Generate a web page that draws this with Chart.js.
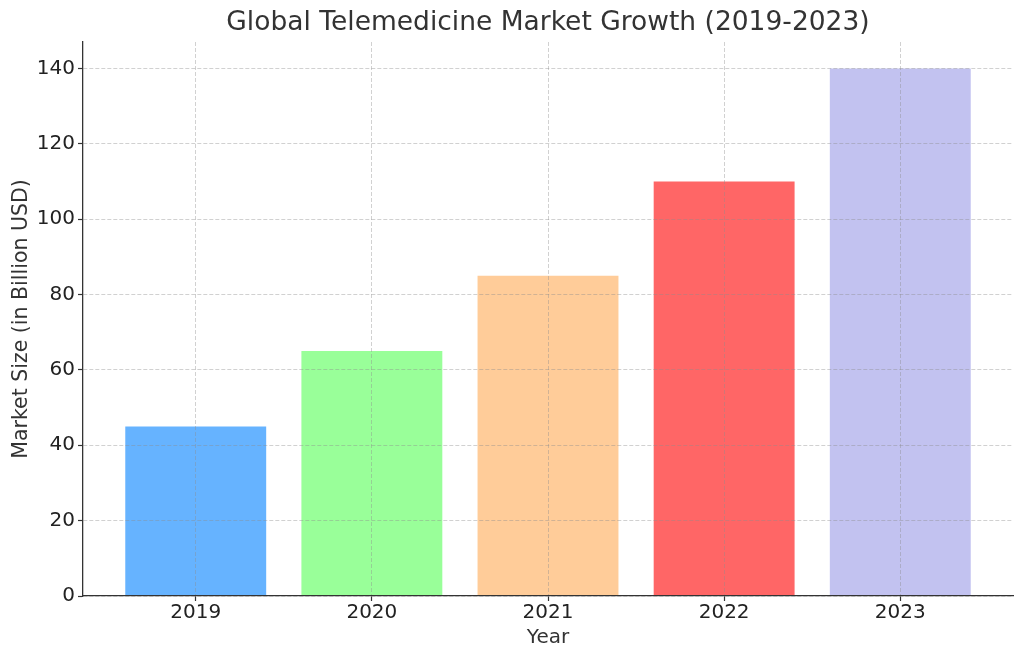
<!DOCTYPE html>
<html>
<head>
<meta charset="utf-8">
<title>Global Telemedicine Market Growth</title>
<script src="https://cdn.jsdelivr.net/npm/chart.js@4.4.1/dist/chart.umd.min.js"></script>
<style>
    html, body { margin: 0; padding: 0; background: #fff; }
    #wrap { width: 1024px; height: 660px; }
</style>
</head>
<body>
<div id="wrap"><canvas id="marketChart"></canvas></div>
<script>
// Chart data
const years = ['2019', '2020', '2021', '2022', '2023'];
const marketSize = [45, 65, 85, 110, 140];
const barColors = ['#66b3ff', '#99ff99', '#ffcc99', '#ff6666', '#c2c2f0'];
const yTicks = [0, 20, 40, 60, 80, 100, 120, 140];

const chartTitle = 'Global Telemedicine Market Growth (2019-2023)';
const FONT = '"DejaVu Sans", sans-serif';

// Title centred over the plot area, like matplotlib does
const plotTitle = {
    id: 'plotTitle',
    afterDraw(chart) {
        const { ctx, chartArea } = chart;
        ctx.save();
        ctx.font = '26.5px ' + FONT;
        ctx.fillStyle = '#333';
        ctx.textAlign = 'center';
        ctx.textBaseline = 'middle';
        ctx.fillText(chartTitle, (chartArea.left + chartArea.right) / 2, 23);
        ctx.restore();
    }
};

// grid on top of the bars (z: 1), border in the same layer so it draws after the grid
const gridStyle = {
    color: 'rgba(140, 140, 140, 0.4)',
    lineWidth: 1,
    z: 1,
    offset: false,
    tickColor: '#333',
    tickLength: 5,
    tickWidth: 1.2
};
const borderStyle = { display: true, color: '#333', width: 1.3, dash: [4, 2], z: 1 };

const ctx = document.getElementById('marketChart').getContext('2d');
new Chart(ctx, {
    type: 'bar',
    data: {
        datasets: [{
            label: 'Market Size',
            data: marketSize.map((v, i) => ({ x: i, y: v })),
            backgroundColor: barColors,
            borderWidth: 0,
            barPercentage: 0.8,
            categoryPercentage: 1
        }]
    },
    options: {
        responsive: true,
        maintainAspectRatio: false,
        animation: false,
        layout: { padding: { top: 42, right: 11, left: 0, bottom: 0 } },
        plugins: {
            legend: { display: false },
            tooltip: { enabled: false }
        },
        scales: {
            x: {
                type: 'linear',
                offset: false,
                min: -0.64,
                max: 4.64,
                afterBuildTicks: scale => {
                    scale.ticks = years.map((_, i) => ({ value: i }));
                },
                afterFit: scale => { scale.height = 64; },
                ticks: {
                    callback: value => years[value],
                    font: { family: FONT, size: 20 },
                    color: '#222',
                    padding: 0,
                    maxRotation: 0
                },
                grid: gridStyle,
                border: borderStyle,
                title: {
                    display: true,
                    text: 'Year',
                    font: { family: FONT, size: 20 },
                    color: '#333',
                    padding: { top: 0, bottom: 10 }
                }
            },
            y: {
                min: 0,
                max: 147,
                afterBuildTicks: scale => {
                    scale.ticks = yTicks.map(v => ({ value: v }));
                },
                afterFit: scale => { scale.width = 83; },
                ticks: {
                    font: { family: FONT, size: 20 },
                    color: '#222',
                    padding: 3
                },
                grid: gridStyle,
                border: borderStyle,
                title: {
                    display: true,
                    text: 'Market Size (in Billion USD)',
                    font: { family: FONT, size: 20.5 },
                    color: '#333',
                    padding: { top: 9, bottom: 0 }
                }
            }
        }
    },
    plugins: [plotTitle]
});
</script>
</body>
</html>
